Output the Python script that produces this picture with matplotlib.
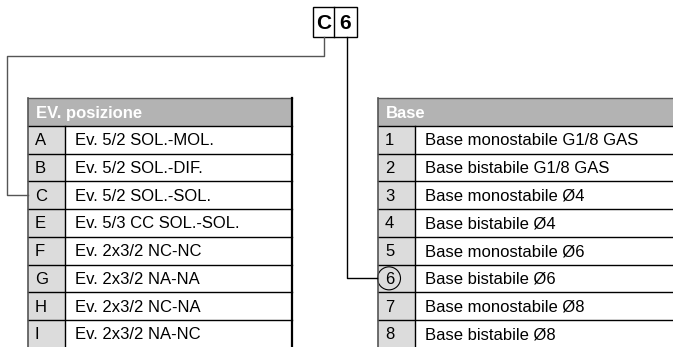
import matplotlib
matplotlib.use('Agg')
import matplotlib.pyplot as plt
from matplotlib.patches import Rectangle, Circle

plt.rcParams['font.family'] = ['Liberation Sans', 'DejaVu Sans']

# Table contents
code_letters = ['C', '6']
left_title = 'EV. posizione'
left_keys = ['A', 'B', 'C', 'E', 'F', 'G', 'H', 'I']
left_descs = ['Ev. 5/2 SOL.-MOL.', 'Ev. 5/2 SOL.-DIF.', 'Ev. 5/2 SOL.-SOL.',
              'Ev. 5/3 CC SOL.-SOL.', 'Ev. 2x3/2 NC-NC', 'Ev. 2x3/2 NA-NA',
              'Ev. 2x3/2 NC-NA', 'Ev. 2x3/2 NA-NC']
right_title = 'Base'
right_keys = ['1', '2', '3', '4', '5', '6', '7', '8']
right_descs = ['Base monostabile G1/8 GAS', 'Base bistabile G1/8 GAS',
               'Base monostabile Ø4', 'Base bistabile Ø4', 'Base monostabile Ø6',
               'Base bistabile Ø6', 'Base monostabile Ø8', 'Base bistabile Ø8']
selected_left = 'C'
selected_right = '6'

W, H = 673, 347
fig = plt.figure(figsize=(W / 100, H / 100), dpi=100)
ax = fig.add_axes([0, 0, 1, 1])
ax.set_xlim(0, W)
ax.set_ylim(H, 0)
ax.axis('off')

HEADER_TOP = 98
HEADER_H = 28
ROW_H = 27.7
HEADER_COL = '#b3b3b3'
KEY_COL = '#dcdcdc'
FS = 12


def draw_table(x0, xdiv, x1, title, keys, descs, circled=None):
    ax.add_patch(Rectangle((x0, HEADER_TOP), x1 - x0, HEADER_H, fc=HEADER_COL, ec='none'))
    ax.text(x0 + 8, HEADER_TOP + HEADER_H / 2 + 1, title, color='white', fontweight='bold',
            fontsize=FS, va='center', ha='left')
    y_rows = HEADER_TOP + HEADER_H
    n = len(keys)
    ax.add_patch(Rectangle((x0, y_rows), xdiv - x0, ROW_H * n + 10, fc=KEY_COL, ec='none'))
    for i, (k, d) in enumerate(zip(keys, descs)):
        yc = y_rows + ROW_H * (i + 0.5)
        ax.text(x0 + 7, yc + 1, k, fontsize=FS, va='center', ha='left')
        ax.text(xdiv + 10, yc + 1, d, fontsize=FS, va='center', ha='left')
        if k == circled:
            ax.add_patch(Circle((x0 + 11, yc), 11.5, fc='none', ec='black', lw=0.8))
        ax.plot([x0, x1], [y_rows + ROW_H * i, y_rows + ROW_H * i], color='black', lw=1.0)
    ax.plot([x0, x1], [HEADER_TOP, HEADER_TOP], color='#555555', lw=1.0)
    ax.plot([x0, x0], [HEADER_TOP, H], color='#555555', lw=1.2)
    ax.plot([xdiv, xdiv], [y_rows, H], color='black', lw=1.0)
    if x1 < W:
        ax.plot([x1, x1], [HEADER_TOP, H], color='black', lw=1.6)
    return y_rows


# left table
yl = draw_table(28, 65, 292, left_title, left_keys, left_descs)
# right table
yr = draw_table(378, 415, W + 2, right_title, right_keys, right_descs, circled=selected_right)

# code box
bx0, bmid, bx1, by0, by1 = 313, 334, 357, 7, 37
ax.add_patch(Rectangle((bx0, by0), bx1 - bx0, by1 - by0, fc='white', ec='black', lw=1.0))
ax.plot([bmid, bmid], [by0, by1], color='black', lw=1.0)
ax.text((bx0 + bmid) / 2, (by0 + by1) / 2 + 1, code_letters[0], fontsize=15, fontweight='bold',
        ha='center', va='center')
ax.text((bmid + bx1) / 2, (by0 + by1) / 2 + 1, code_letters[1], fontsize=15, fontweight='bold',
        ha='center', va='center')

# connectors
il = left_keys.index(selected_left)
yc_l = yl + ROW_H * (il + 0.5)
ax.plot([324, 324, 7, 7, 28], [by1, 56, 56, yc_l, yc_l], color='#555555', lw=1.0)
ir = right_keys.index(selected_right)
yc_r = yr + ROW_H * (ir + 0.5)
ax.plot([347, 347, 377], [by1, yc_r, yc_r], color='black', lw=1.0)

fig.savefig('out.png', dpi=100)
